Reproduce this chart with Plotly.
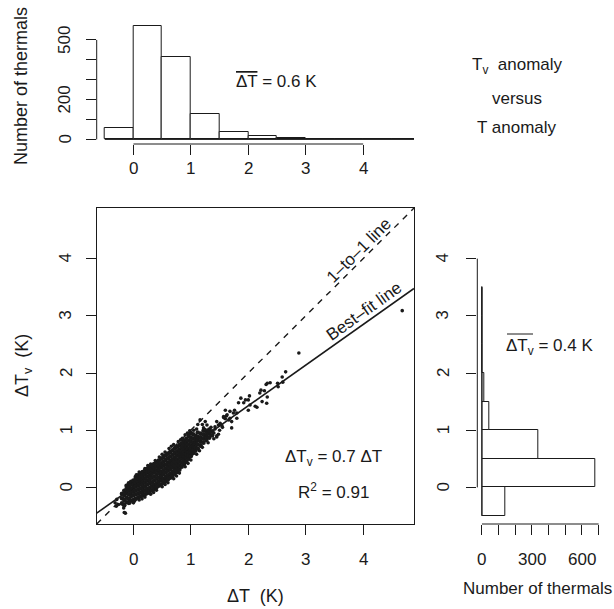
import plotly.graph_objects as go

# ---------------- data ----------------
# Scatter: dense core, listed as (dT, [dTv values]) columns
core_cols = [
    (-0.20, [-0.28, -0.19, -0.11]),
    (-0.16, [-0.31, -0.22, -0.13, -0.06]),
    (-0.12, [-0.26, -0.18, -0.10, -0.03, 0.03]),
    (-0.08, [-0.27, -0.20, -0.12, -0.05, 0.01, 0.07]),
    (-0.04, [-0.23, -0.15, -0.08, -0.02, 0.05, 0.10]),
    (0.00, [-0.22, -0.14, -0.07, 0.00, 0.06, 0.12]),
    (0.04, [-0.20, -0.12, -0.05, 0.02, 0.08, 0.14, 0.18]),
    (0.08, [-0.18, -0.11, -0.04, 0.03, 0.10, 0.16, 0.21]),
    (0.12, [-0.16, -0.09, -0.02, 0.05, 0.12, 0.18, 0.24]),
    (0.16, [-0.14, -0.07, 0.00, 0.07, 0.14, 0.21, 0.27]),
    (0.20, [-0.12, -0.05, 0.02, 0.09, 0.16, 0.23, 0.29]),
    (0.24, [-0.10, -0.03, 0.05, 0.12, 0.19, 0.26, 0.32]),
    (0.28, [-0.08, -0.01, 0.07, 0.14, 0.21, 0.28, 0.35]),
    (0.32, [-0.05, 0.02, 0.09, 0.17, 0.24, 0.31, 0.38]),
    (0.36, [-0.03, 0.04, 0.12, 0.19, 0.27, 0.34, 0.41]),
    (0.40, [0.00, 0.07, 0.15, 0.22, 0.29, 0.36, 0.44]),
    (0.44, [0.03, 0.10, 0.17, 0.25, 0.32, 0.39, 0.47]),
    (0.48, [0.05, 0.13, 0.20, 0.27, 0.35, 0.42, 0.50]),
    (0.52, [0.08, 0.15, 0.23, 0.30, 0.38, 0.45, 0.53]),
    (0.56, [0.11, 0.18, 0.26, 0.33, 0.40, 0.48, 0.56]),
    (0.60, [0.14, 0.21, 0.29, 0.36, 0.43, 0.51, 0.59]),
    (0.64, [0.17, 0.24, 0.32, 0.39, 0.46, 0.54, 0.62]),
    (0.68, [0.20, 0.27, 0.35, 0.42, 0.49, 0.57, 0.65]),
    (0.72, [0.24, 0.31, 0.38, 0.45, 0.52, 0.60, 0.68]),
    (0.76, [0.27, 0.34, 0.41, 0.48, 0.56, 0.63, 0.71]),
    (0.80, [0.31, 0.38, 0.45, 0.52, 0.59, 0.66, 0.74]),
    (0.84, [0.36, 0.43, 0.50, 0.56, 0.63, 0.70, 0.77]),
    (0.88, [0.41, 0.48, 0.54, 0.60, 0.67, 0.74, 0.81]),
    (0.92, [0.45, 0.52, 0.58, 0.64, 0.71, 0.78, 0.85]),
    (0.96, [0.50, 0.56, 0.62, 0.68, 0.75, 0.82, 0.90]),
    (1.00, [0.55, 0.61, 0.67, 0.73, 0.80, 0.87, 0.95]),
    (1.04, [0.60, 0.66, 0.72, 0.78, 0.85, 0.93]),
    (1.08, [0.64, 0.70, 0.77, 0.83, 0.90]),
    (1.12, [0.68, 0.75, 0.82, 0.88, 0.96]),
    (1.17, [0.73, 0.80, 0.87, 0.94]),
    (1.22, [0.78, 0.85, 0.92, 0.99]),
    (1.27, [0.83, 0.90, 0.97]),
    (1.32, [0.87, 0.94, 1.01]),
    (1.37, [0.91, 0.98]),
]
# Scattered individual points (edges of the cloud and outliers)
scatter_dT = [-0.29, -0.26, -0.17, -0.16, -0.06, 0.02, -0.32, -0.14, -0.30,
              0.05, 0.10, 0.20, 0.25, 0.30, 0.38, 0.45, 0.50, 0.55, 0.62, 0.66, 0.70,
              0.78, 0.82, 0.85, 0.90, 0.94, 0.98, 1.05, 1.10,
              0.00, 0.10, 0.15, 0.20, 0.30, 0.35, 0.40, 0.50, 0.55, 0.60, 0.70, 0.75,
              0.80, 0.90, 0.95, 1.00, 1.10, 1.15, 1.20, 1.30, 1.40, 1.45,
              1.16, 1.12, 1.20, 1.30, 1.35, 1.40, 1.45, 1.42, 1.50, 1.48, 1.55, 1.60, 1.62, 1.57,
              1.25, 1.28, 1.22, 1.25, 1.45, 1.48, 1.51, 1.42, 1.54, 1.71,
              1.68, 1.71, 1.66, 1.80, 1.76, 1.74, 1.80, 1.68, 1.60, 1.63, 1.57,
              2.03, 2.12, 2.15, 2.00, 2.32, 2.02, 2.00, 1.95, 1.92, 1.87, 1.83,
              2.28, 2.22, 2.20, 2.33, 2.24, 2.38, 2.33, 2.31,
              2.51, 2.52, 2.59, 2.60, 2.65, 2.88, 4.68]
scatter_dTv = [-0.21, -0.30, -0.36, -0.44, -0.27, -0.24, -0.27, -0.45, -0.33,
               0.22, 0.27, 0.33, 0.38, 0.41, 0.47, 0.53, 0.58, 0.62, 0.68, 0.72, 0.75,
               0.80, 0.83, 0.86, 0.92, 0.95, 0.99, 1.00, 1.02,
               -0.27, -0.22, -0.20, -0.17, -0.12, -0.09, -0.05, 0.01, 0.05, 0.08, 0.15, 0.20,
               0.25, 0.36, 0.42, 0.48, 0.58, 0.64, 0.70, 0.78, 0.85, 0.88,
               1.18, 1.10, 1.10, 1.00, 1.05, 0.95, 0.90, 1.02, 1.00, 0.93, 1.05, 1.20, 1.25, 1.22,
               1.15, 1.09, 1.04, 1.01, 1.15, 1.09, 1.12, 1.06, 1.08, 1.04,
               1.21, 1.15, 1.18, 1.21, 1.35, 1.30, 1.30, 1.33, 1.35, 1.27, 1.24,
               1.44, 1.42, 1.40, 1.35, 1.47, 1.60, 1.53, 1.53, 1.48, 1.56, 1.48,
               1.69, 1.70, 1.65, 1.58, 1.50, 1.83, 1.82, 1.80,
               1.82, 1.76, 1.93, 1.84, 2.02, 2.35, 3.09]

fit_slope = 0.711
fit_intercept = 0.005

# Histogram of dT (bin width 0.5)
hist_dT_edges = [-0.5, 0.0, 0.5, 1.0, 1.5, 2.0, 2.5, 3.0, 3.5, 4.0, 4.5, 5.0]
hist_dT_counts = [55, 572, 416, 127, 38, 17, 6, 0, 0, 0, 1]
# Histogram of dTv (bin width 0.5)
hist_dTv_edges = [-0.5, 0.0, 0.5, 1.0, 1.5, 2.0, 2.5, 3.0, 3.5]
hist_dTv_counts = [142, 682, 338, 44, 14, 3, 0, 1]

main_ticks = [0, 1, 2, 3, 4]
main_tick_labels = ["0", "1", "2", "3", "4"]
top_count_ticks = [0, 100, 200, 300, 400, 500]
top_count_labels = ["0", "", "200", "", "", "500"]
right_count_ticks = [0, 100, 200, 300, 400, 500, 600, 700]
right_count_labels = ["0", "", "", "300", "", "", "600", ""]

axis_range = [-0.64, 4.885]
top_count_range = [-23, 595]
right_count_range = [-28, 728]

# ---------------- figure ----------------
W, H = 614, 609
INK = "#1a1a1a"
FONT = "Liberation Sans, Arial, sans-serif"
FS = 17
FS_TITLE = 18


def px_x(p):
    return p / W


def px_y(p):
    return 1 - p / H


main_xdom = [px_x(96.7), px_x(414)]
main_ydom = [px_y(524), px_y(208)]
top_ydom = [px_y(144), px_y(21)]
right_xdom = [px_x(477.3), px_x(603.3)]

core_x = []
core_y = []
for cx, ys in core_cols:
    for yv in ys:
        core_x.append(cx)
        core_y.append(yv)

fig = go.Figure()

# main scatter
fig.add_trace(go.Scatter(x=core_x, y=core_y, mode="markers",
                         marker=dict(size=4.6, color=INK), xaxis="x", yaxis="y",
                         showlegend=False, hoverinfo="skip"))
fig.add_trace(go.Scatter(x=scatter_dT, y=scatter_dTv, mode="markers",
                         marker=dict(size=3.6, color=INK), xaxis="x", yaxis="y",
                         showlegend=False, hoverinfo="skip"))
# 1-to-1 line
fig.add_trace(go.Scatter(x=axis_range, y=axis_range, mode="lines",
                         line=dict(color=INK, width=1.4, dash="6px,6px"),
                         xaxis="x", yaxis="y", showlegend=False, hoverinfo="skip"))
# best-fit line
fit_y = [fit_intercept + fit_slope * v for v in axis_range]
fig.add_trace(go.Scatter(x=axis_range, y=fit_y, mode="lines",
                         line=dict(color=INK, width=1.6),
                         xaxis="x", yaxis="y", showlegend=False, hoverinfo="skip"))

# top histogram
centers_T = [(hist_dT_edges[i] + hist_dT_edges[i + 1]) / 2 for i in range(len(hist_dT_counts))]
widths_T = [hist_dT_edges[i + 1] - hist_dT_edges[i] for i in range(len(hist_dT_counts))]
fig.add_trace(go.Bar(x=centers_T, y=hist_dT_counts, width=widths_T,
                     marker=dict(color="white", line=dict(color=INK, width=1)),
                     xaxis="x2", yaxis="y2", showlegend=False, hoverinfo="skip"))
fig.add_trace(go.Scatter(x=[hist_dT_edges[0], hist_dT_edges[-1]], y=[0, 0], mode="lines",
                         line=dict(color=INK, width=1), xaxis="x2", yaxis="y2",
                         showlegend=False, hoverinfo="skip"))

# right histogram (horizontal)
centers_Tv = [(hist_dTv_edges[i] + hist_dTv_edges[i + 1]) / 2 for i in range(len(hist_dTv_counts))]
widths_Tv = [hist_dTv_edges[i + 1] - hist_dTv_edges[i] for i in range(len(hist_dTv_counts))]
fig.add_trace(go.Bar(y=centers_Tv, x=hist_dTv_counts, width=widths_Tv, orientation="h",
                     marker=dict(color="white", line=dict(color=INK, width=1)),
                     xaxis="x3", yaxis="y3", showlegend=False, hoverinfo="skip"))
fig.add_trace(go.Scatter(x=[0, 0], y=[hist_dTv_edges[0], hist_dTv_edges[-1]], mode="lines",
                         line=dict(color=INK, width=1), xaxis="x3", yaxis="y3",
                         showlegend=False, hoverinfo="skip"))

common = dict(ticks="outside", ticklen=10, tickwidth=1, tickcolor=INK,
              showgrid=False, zeroline=False, showticklabels=False)

fig.update_layout(
    width=W, height=H, margin=dict(l=0, r=0, t=0, b=0),
    paper_bgcolor="white", plot_bgcolor="white",
    bargap=0,
    font=dict(family=FONT, size=FS, color=INK),
    xaxis=dict(domain=main_xdom, range=axis_range, tickvals=main_ticks,
               showline=True, mirror=True, linecolor=INK, linewidth=1,
               anchor="y", **common),
    yaxis=dict(domain=main_ydom, range=axis_range, tickvals=main_ticks,
               showline=True, mirror=True, linecolor=INK, linewidth=1,
               anchor="x", **common),
    xaxis2=dict(domain=main_xdom, range=axis_range, tickvals=main_ticks,
                showline=False, anchor="y2", **common),
    yaxis2=dict(domain=top_ydom, range=top_count_range, tickvals=top_count_ticks,
                showline=False, anchor="x2", **common),
    xaxis3=dict(domain=right_xdom, range=right_count_range, tickvals=right_count_ticks,
                showline=False, anchor="y3", **common),
    yaxis3=dict(domain=main_ydom, range=axis_range, tickvals=main_ticks,
                showline=False, anchor="x3", **common),
)

# R-style axis lines spanning first to last tick
line_style = dict(color=INK, width=1)
fig.add_shape(type="line", xref="x2", yref="y2 domain", x0=main_ticks[0], x1=main_ticks[-1],
              y0=0, y1=0, line=line_style)
fig.add_shape(type="line", xref="x2 domain", yref="y2", x0=0, x1=0,
              y0=top_count_ticks[0], y1=top_count_ticks[-1], line=line_style)
fig.add_shape(type="line", xref="x3", yref="y3 domain", x0=right_count_ticks[0],
              x1=right_count_ticks[-1], y0=0, y1=0, line=line_style)
fig.add_shape(type="line", xref="x3 domain", yref="y3", x0=0, x1=0,
              y0=main_ticks[0], y1=main_ticks[-1], line=line_style)


def ann(text, x, y, xref="paper", yref="paper", angle=0, size=FS):
    fig.add_annotation(text=text, x=x, y=y, xref=xref, yref=yref, showarrow=False,
                       textangle=angle, font=dict(family=FONT, size=size, color=INK),
                       xanchor="center", yanchor="middle")


# tick labels (positioned along each axis with that axis' scale)
for v, t in zip(main_ticks, main_tick_labels):
    ann(t, v, px_y(559), xref="x", yref="paper")          # main x
    ann(t, px_x(66), v, xref="paper", yref="y", angle=-90)  # main y
    ann(t, v, px_y(168), xref="x2", yref="paper")         # top hist x
    ann(t, px_x(443), v, xref="paper", yref="y3", angle=-90)  # right hist y
for v, t in zip(top_count_ticks, top_count_labels):
    if t:
        ann(t, px_x(65), v, xref="paper", yref="y2", angle=-90)
for v, t in zip(right_count_ticks, right_count_labels):
    if t:
        ann(t, v, px_y(559), xref="x3", yref="paper")

# axis titles
ann("Number of thermals", px_x(21), px_y(86), angle=-90, size=FS_TITLE)
ann("ΔT<sub>v</sub>  (K)", px_x(23), px_y(366), angle=-90, size=FS_TITLE)
ann("ΔT  (K)", px_x(255.4), px_y(596), size=FS_TITLE)
ann("Number of thermals", px_x(537.5), px_y(588), size=FS)

# top right caption
ann("T<sub>v</sub>  anomaly", px_x(517), px_y(66))
ann("versus", px_x(517), px_y(98))
ann("T anomaly", px_x(517), px_y(128))

# line labels
ann("1–to–1 line", 3.92, 4.15, xref="x", yref="y", angle=-45)
ann("Best–fit line", 4.01, 3.08, xref="x", yref="y", angle=-35.4)

# fit text
ann("ΔT<sub>v</sub> = 0.7 ΔT", 3.48, 0.52, xref="x", yref="y")
ann("R<sup>2</sup> = 0.91", 3.48, -0.06, xref="x", yref="y")

# mean texts
ann('<span style="text-decoration:overline">ΔT</span> = 0.6 K', 2.49, 289, xref="x2", yref="y2")
ann('ΔT<sub>v</sub> = 0.4 K', 405, 2.45, xref="x3", yref="y3")
# overline above the right-hand mean symbol
fig.add_shape(type="line", xref="paper", yref="paper", x0=px_x(507), x1=px_x(533),
              y0=px_y(334), y1=px_y(334), line=dict(color=INK, width=1))

fig.write_html("out.html")
